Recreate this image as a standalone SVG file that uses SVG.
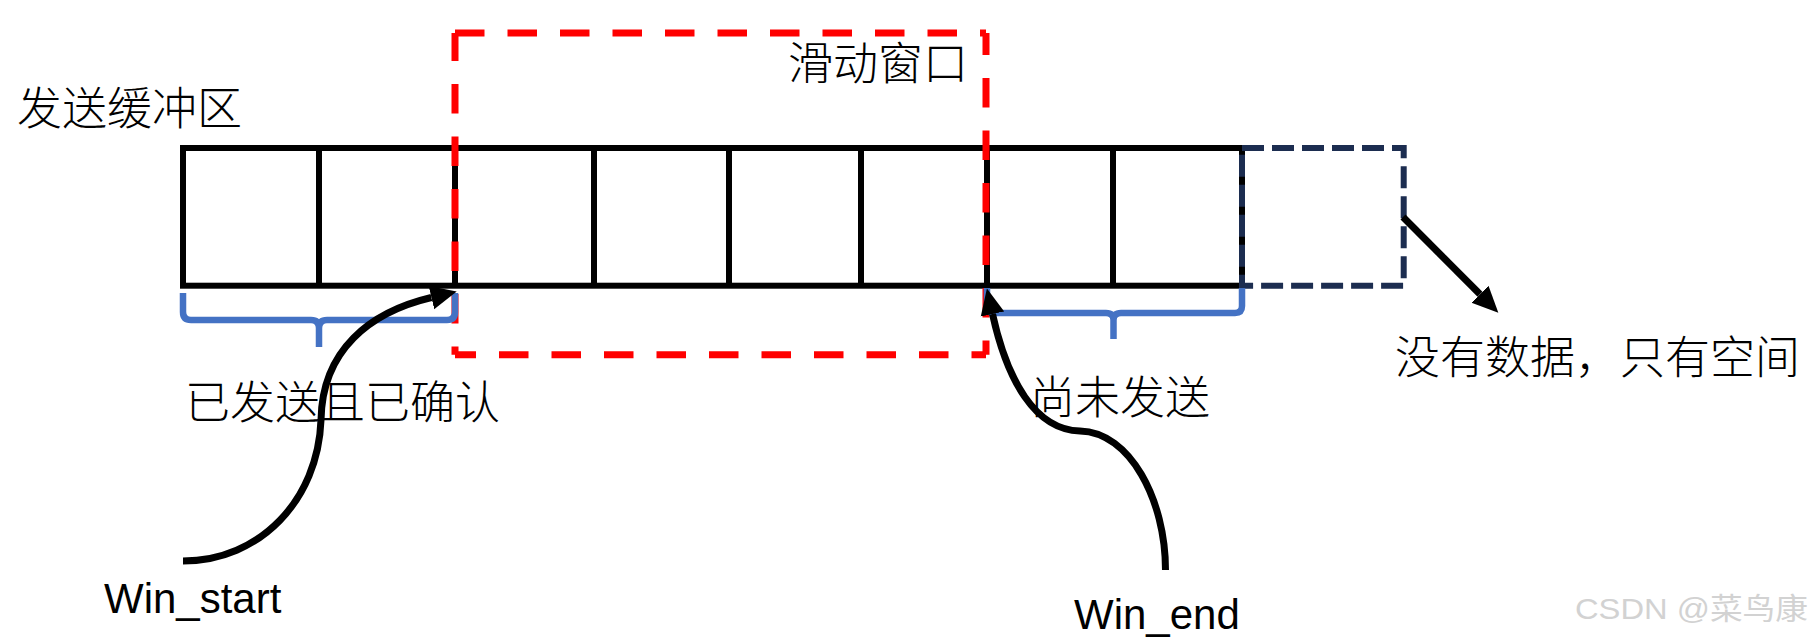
<svg xmlns="http://www.w3.org/2000/svg" width="1816" height="643" viewBox="0 0 1816 643">
  <style>
    .cjk { font-family: "Noto Sans CJK SC", "Liberation Sans", sans-serif; font-size: 45px; font-weight: 300; fill: #000; }
    .lat { font-family: "Liberation Sans", Arial, sans-serif; font-size: 42px; fill: #000; }
    .buf { fill: none; stroke: #000; stroke-width: 6; }
    .red { fill: none; stroke: #ff0000; stroke-width: 7; stroke-dasharray: 29.5 23; }
    .navy { fill: none; stroke: #1c2d50; stroke-width: 6; stroke-dasharray: 22 8; }
    .brace { fill: none; stroke: #4472c4; stroke-width: 6.5; stroke-linejoin: round; }
    .conn { fill: none; stroke: #000; stroke-width: 7; }
    .wm { font-family: "Liberation Sans", "Noto Sans CJK SC", sans-serif; font-size: 30px; fill: #d2d2d2; }
  </style>
  <defs>
    <marker id="arrow" markerUnits="userSpaceOnUse" viewBox="0 -13 27 26" refX="0" refY="0" markerWidth="27" markerHeight="26" orient="auto">
      <path d="M0,-12 L26,0 L0,12 Z" fill="#000"/>
    </marker>
  </defs>
  <rect width="1816" height="643" fill="#fff"/>

  <g id="send-buffer">
    <rect class="buf" x="183" y="148" width="1059" height="137.7"/>
    <path class="buf" d="M319,148V285.7 M455,148V285.7 M594,148V285.7 M729,148V285.7 M861,148V285.7 M987,148V285.7 M1113,148V285.7"/>
    <text class="cjk" x="17" y="125">发送缓冲区</text>
  </g>

  <g id="empty-space">
    <path class="navy" d="M1242,148 H1403.7 V285.7 H1242 Z"/>
  </g>

  <g id="sliding-window">
    <path class="red" d="M455,33 H986"/>
    <path class="red" d="M455,33 V354.7" stroke-dashoffset="1.5"/>
    <path class="red" d="M455,354.7 H986" stroke-dashoffset="8.5"/>
    <path class="red" d="M986,33 V354.7" stroke-dashoffset="7.5"/>
    <text class="cjk" x="788" y="80">滑动窗口</text>
  </g>

  <g id="sent-acked">
    <path class="brace" d="M183,293 V312 Q183,320 191,320 H311 Q319,320 319,328 V347 M319,347 V328 Q319,320 327,320 H447 Q455,320 455,312 V293"/>
    <text class="cjk" x="185" y="418.5">已发送且已确认</text>
  </g>

  <g id="not-sent">
    <path class="brace" d="M987,288 V306 Q987,313 994,313 H1106 Q1113.5,313 1113.5,320 V339 M1113.5,339 V320 Q1113.5,313 1121,313 H1235 Q1242,313 1242,306 V288"/>
    <text class="cjk" x="1030" y="413.5">尚未发送</text>
  </g>

  <g id="no-data-label">
    <text class="cjk" x="1395" y="374">没有数据，只有空间</text>
  </g>

  <g id="win-start">
    <text class="lat" x="104" y="613">Win_start</text>
  </g>

  <g id="win-end">
    <text class="lat" x="1074" y="629">Win_end</text>
  </g>

  <g id="connectors">
    <path class="conn" d="M183,561 C260,561 318,500 321,420 C322,350 370,312 431.4,297.5" marker-end="url(#arrow)"/>
    <path class="conn" d="M1165.5,570 C1165.5,500 1130,432 1080,431 C1035,430 1007,380 992.5,314" marker-end="url(#arrow)"/>
    <path class="conn" d="M1403,217 L1480,294.3" marker-end="url(#arrow)"/>
  </g>

  <text class="wm" x="1575" y="619" textLength="233" lengthAdjust="spacingAndGlyphs">CSDN @菜鸟康</text>
</svg>
